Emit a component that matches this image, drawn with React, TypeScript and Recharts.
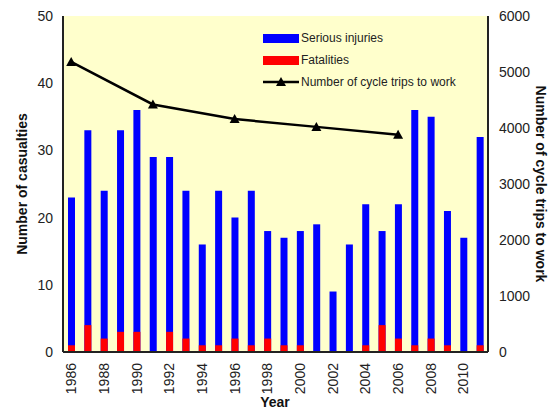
import React from 'react';
import {
  ComposedChart,
  Bar,
  Line,
  XAxis,
  YAxis,
  CartesianGrid,
  Label,
} from 'recharts';

const years = [
  '1986', '1987', '1988', '1989', '1990', '1991', '1992', '1993', '1994',
  '1995', '1996', '1997', '1998', '1999', '2000', '2001', '2002', '2003',
  '2004', '2005', '2006', '2007', '2008', '2009', '2010', '2011',
];
const seriousInjuries = [23, 33, 24, 33, 36, 29, 29, 24, 16, 24, 20, 24, 18, 17, 18, 19, 9, 16, 22, 18, 22, 36, 35, 21, 17, 32];
const fatalities = [1, 4, 2, 3, 3, 0, 3, 2, 1, 1, 2, 1, 2, 1, 1, 0, 0, 0, 1, 4, 2, 1, 2, 1, 0, 1];
// census years only
const cycleTrips: (number | null)[] = [
  5180, null, null, null, null, 4420, null, null, null, null, 4160, null, null,
  null, null, 4020, null, null, null, null, 3880, null, null, null, null, null,
];
const leftTicks = [0, 10, 20, 30, 40, 50];
const rightTicks = [0, 1000, 2000, 3000, 4000, 5000, 6000];

const data = years.map((year, i) => ({
  year,
  serious: seriousInjuries[i],
  fatal: fatalities[i],
  trips: cycleTrips[i],
}));

const FONT = 'Liberation Sans, Arial, sans-serif';

const Triangle = (props: any) => {
  const { cx, cy, value } = props;
  if (value == null || cx == null || cy == null) return null;
  return <path d={`M${cx},${cy - 5} L${cx + 5},${cy + 4} L${cx - 5},${cy + 4} Z`} fill="#000" />;
};

const YearTick = (props: any) => {
  const { x, payload } = props;
  const y = 363;
  return (
    <text
      x={x}
      y={y}
      transform={`rotate(-90 ${x} ${y})`}
      textAnchor="end"
      dominantBaseline="central"
      fontSize={14}
      fontFamily={FONT}
      fill="#222"
    >
      {payload.value}
    </text>
  );
};

const LegendBox = () => (
  <div
    style={{
      position: 'absolute',
      left: 263,
      top: 27,
      fontFamily: FONT,
      fontSize: 12,
      color: '#222',
      lineHeight: '14px',
    }}
  >
    <div style={{ display: 'flex', alignItems: 'center', height: 22 }}>
      <span style={{ width: 36, height: 9, background: '#0000ff', display: 'inline-block', marginRight: 2 }} />
      Serious injuries
    </div>
    <div style={{ display: 'flex', alignItems: 'center', height: 22 }}>
      <span style={{ width: 36, height: 9, background: '#ff0000', display: 'inline-block', marginRight: 2 }} />
      Fatalities
    </div>
    <div style={{ display: 'flex', alignItems: 'center', height: 22 }}>
      <svg width={36} height={12} style={{ marginRight: 2 }}>
        <line x1={0} y1={6} x2={36} y2={6} stroke="#000" strokeWidth={2.5} />
        <path d="M18,1 L23,10 L13,10 Z" fill="#000" />
      </svg>
      Number of cycle trips to work
    </div>
  </div>
);

export default function App() {
  return (
    <div style={{ position: 'absolute', left: 0, top: 0, width: 556, height: 409, background: '#fff' }}>
      <ComposedChart
        width={556}
        height={409}
        data={data}
        margin={{ top: 16, right: 0, bottom: 0, left: 0 }}
      >
        <CartesianGrid fill="#ffffcc" horizontal={false} vertical={false} />
        <XAxis
          xAxisId="main"
          dataKey="year"
          interval={1}
          height={57}
          tick={<YearTick />}
          tickLine={false}
          axisLine={{ stroke: '#222', strokeWidth: 2 }}
        >
          <Label
            content={() => (
              <text x={275} y={407} textAnchor="middle" fontSize={14} fontWeight="bold" fontFamily={FONT} fill="#111">
                Year
              </text>
            )}
          />
        </XAxis>
        <XAxis
          xAxisId="overlay"
          dataKey="year"
          orientation="top"
          height={0}
          tick={false}
          tickLine={false}
          axisLine={{ stroke: '#222', strokeWidth: 2 }}
        />
        <YAxis
          yAxisId="left"
          width={63}
          domain={[0, 50]}
          ticks={leftTicks}
          tickLine={false}
          tickSize={0}
          tickMargin={10}
          tick={{ fontSize: 14, fill: '#222', fontFamily: FONT }}
          axisLine={{ stroke: '#222', strokeWidth: 2 }}
        >
          <Label
            content={() => (
              <text
                x={22}
                y={184}
                transform="rotate(-90 22 184)"
                textAnchor="middle"
                dominantBaseline="central"
                fontSize={14}
                fontWeight="bold"
                fontFamily={FONT}
                fill="#111"
              >
                Number of casualties
              </text>
            )}
          />
        </YAxis>
        <YAxis
          yAxisId="right"
          orientation="right"
          width={68}
          domain={[0, 6000]}
          ticks={rightTicks}
          tickLine={false}
          tickSize={0}
          tickMargin={11}
          tick={{ fontSize: 14, fill: '#222', fontFamily: FONT, textAnchor: 'start' }}
          axisLine={{ stroke: '#222', strokeWidth: 2 }}
        >
          <Label
            content={() => (
              <text
                x={541}
                y={184}
                transform="rotate(90 541 184)"
                textAnchor="middle"
                dominantBaseline="central"
                fontSize={14}
                fontWeight="bold"
                fontFamily={FONT}
                fill="#111"
              >
                Number of cycle trips to work
              </text>
            )}
          />
        </YAxis>
        <Bar
          xAxisId="main"
          yAxisId="left"
          dataKey="serious"
          name="Serious injuries"
          fill="#0000ff"
          barSize={7}
          isAnimationActive={false}
        />
        <Bar
          xAxisId="overlay"
          yAxisId="left"
          dataKey="fatal"
          name="Fatalities"
          fill="#ff0000"
          barSize={7}
          isAnimationActive={false}
        />
        <Line
          xAxisId="main"
          yAxisId="right"
          dataKey="trips"
          name="Number of cycle trips to work"
          stroke="#000"
          strokeWidth={2.5}
          connectNulls
          dot={<Triangle />}
          activeDot={false}
          isAnimationActive={false}
        />
      </ComposedChart>
      <LegendBox />
    </div>
  );
}
